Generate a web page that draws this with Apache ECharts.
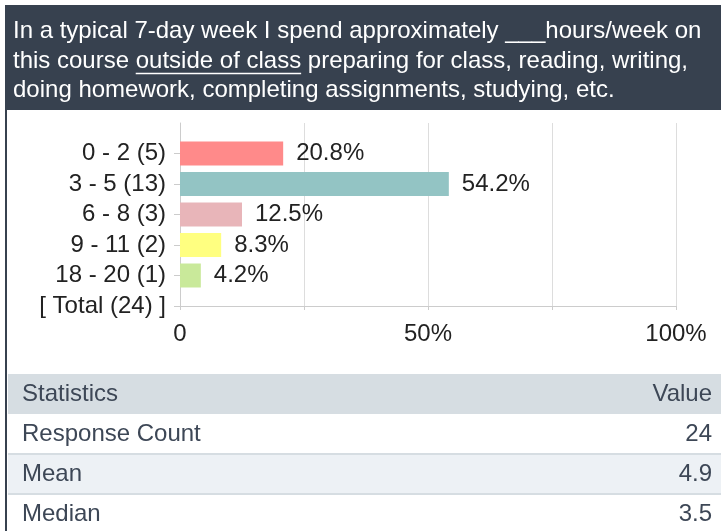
<!DOCTYPE html>
<html><head><meta charset="utf-8">
<script src="https://cdn.jsdelivr.net/npm/echarts@6/dist/echarts.min.js"></script>
<style>html,body{margin:0;padding:0;background:#fff}#c{width:721px;height:531px}</style>
</head><body><div id="c"></div>
<script>
// ---- data ----
const titleLine1 = 'In a typical 7-day week I spend approximately ___hours/week on';
const titleLine2 = ['this course ', 'outside of class', ' preparing for class, reading, writing,'];
const titleLine3 = 'doing homework, completing assignments, studying, etc.';
const ranges = ['0 - 2', '3 - 5', '6 - 8', '9 - 11', '18 - 20'];
const counts = [5, 13, 3, 2, 1];
const percents = [20.8, 54.2, 12.5, 8.3, 4.2];
const barColors = ['#ff8a8a', '#93c4c4', '#e8b5b9', '#ffff80', '#c9e99a'];
const totalCount = 24;
const xTickLabels = {0: '0', 50: '50%', 100: '100%'};
const statHeader = ['Statistics', 'Value'];
const statNames = ['Response Count', 'Mean', 'Median'];
const statValues = ['24', '4.9', '3.5'];

// ---- build ----
const FAM = '"Liberation Sans", Arial, sans-serif';
const HFS = 24;
const categories = [''].concat(ranges.map((r, i) => r + ' (' + counts[i] + ')'), ['[ Total (' + totalCount + ') ]']);
const barData = [null].concat(percents.map((p, i) => ({value: p, itemStyle: {color: barColors[i]}})), [null]);

const mctx = document.createElement('canvas').getContext('2d');
mctx.font = HFS + 'px "Liberation Sans"';
const w = s => mctx.measureText(s).width;

const headerFill = '#37414f';
const textX = 13;
const lineY = [31, 61, 90];
const graphics = [
  {type: 'rect', shape: {x: 5, y: 5, width: 716, height: 105}, style: {fill: headerFill}, silent: true},
  {type: 'rect', shape: {x: 5, y: 110, width: 2, height: 421}, style: {fill: headerFill}, silent: true},
  {type: 'text', x: textX, y: lineY[0], style: {text: titleLine1, font: HFS + 'px ' + FAM, fill: '#fff', verticalAlign: 'middle'}},
  {type: 'text', x: textX, y: lineY[2], style: {text: titleLine3, font: HFS + 'px ' + FAM, fill: '#fff', verticalAlign: 'middle'}}
];
let cx = textX;
titleLine2.forEach((s, i) => {
  graphics.push({type: 'text', x: cx, y: lineY[1], style: {text: s, font: HFS + 'px ' + FAM, fill: '#fff', verticalAlign: 'middle'}});
  if (i === 1) {
    graphics.push({type: 'line', shape: {x1: cx, y1: lineY[1] + 12.5, x2: cx + w(s), y2: lineY[1] + 12.5}, style: {stroke: '#fff', lineWidth: 1.5}});
  }
  cx += w(s);
});

// table
const rowTop = 374, rowH = 40;
const rows = [statHeader].concat(statNames.map((n, i) => [n, statValues[i]]));
const rowBg = ['#d6dde2', '#ffffff', '#edf1f5', '#ffffff'];
rows.forEach((r, i) => {
  const y = rowTop + i * rowH;
  graphics.push({type: 'rect', shape: {x: 8, y: y, width: 713, height: rowH}, style: {fill: rowBg[i]}, silent: true});
  if (i >= 2) graphics.push({type: 'rect', shape: {x: 8, y: y - 1, width: 713, height: 2}, style: {fill: '#d6dde2'}, silent: true});
  graphics.push({type: 'text', x: 22, y: y + rowH / 2, style: {text: r[0], font: HFS + 'px ' + FAM, fill: '#3d4756', verticalAlign: 'middle'}});
  graphics.push({type: 'text', x: 712, y: y + rowH / 2, style: {text: r[1], font: HFS + 'px ' + FAM, fill: '#3d4756', verticalAlign: 'middle', align: 'right'}});
});

const chart = echarts.init(document.getElementById('c'), null, {renderer: 'canvas'});
chart.setOption({
  animation: false,
  backgroundColor: '#fff',
  textStyle: {fontFamily: FAM},
  grid: {left: 180, right: 45, top: 123, height: 183, containLabel: false},
  xAxis: {
    type: 'value', min: 0, max: 100, interval: 25,
    axisLine: {show: true, lineStyle: {color: '#cccccc', width: 1}},
    axisTick: {show: true, length: 4, lineStyle: {color: '#cccccc'}},
    splitLine: {show: true, lineStyle: {color: '#dddddd', width: 1}},
    axisLabel: {fontSize: 24, color: '#222', margin: 16, fontFamily: FAM,
      formatter: v => (xTickLabels[v] !== undefined ? xTickLabels[v] : '')}
  },
  yAxis: {
    type: 'category', inverse: true, boundaryGap: false, data: categories,
    axisLine: {show: true, lineStyle: {color: '#cccccc'}},
    axisTick: {show: true, length: 6, interval: i => i !== 0, lineStyle: {color: '#cccccc'}},
    axisLabel: {fontSize: 24, color: '#222', margin: 14, fontFamily: FAM, interval: 0},
    splitLine: {show: false}
  },
  series: [{
    type: 'bar', data: barData, barWidth: 24,
    label: {show: true, position: 'right', distance: 13, fontSize: 24, color: '#222', fontFamily: FAM,
      formatter: p => p.value + '%'}
  }],
  graphic: graphics
});
</script></body></html>
